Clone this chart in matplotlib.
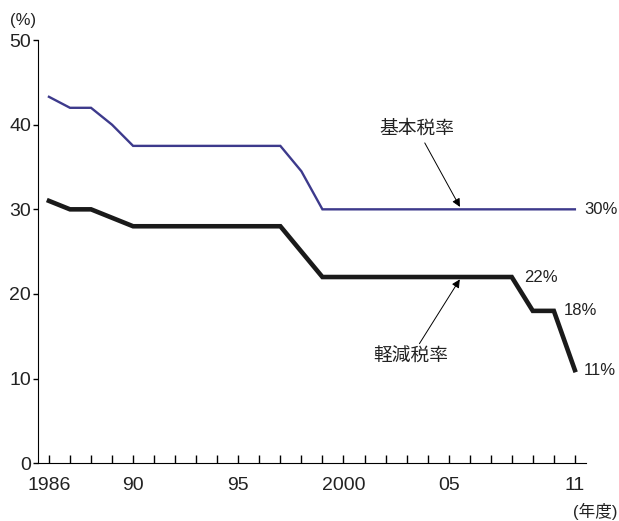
import matplotlib
matplotlib.use("Agg")
import matplotlib.pyplot as plt
from matplotlib.ticker import MultipleLocator

plt.rcParams['font.family'] = ['Liberation Sans', 'Noto Sans CJK JP']

years = list(range(1986, 2012))
basic_rate = [43.3, 42, 42, 40, 37.5, 37.5, 37.5, 37.5, 37.5, 37.5, 37.5, 37.5,
              34.5, 30, 30, 30, 30, 30, 30, 30, 30, 30, 30, 30, 30, 30]
reduced_rate = [31, 30, 30, 29, 28, 28, 28, 28, 28, 28, 28, 28,
                25, 22, 22, 22, 22, 22, 22, 22, 22, 22, 22, 18, 18, 11]
tick_years = [1986, 1990, 1995, 2000, 2005, 2011]
tick_labels = ["1986", "90", "95", "2000", "05", "11"]

fig = plt.figure(figsize=(6.19, 5.21), dpi=100)
ax = fig.add_axes([0.0614, 0.111, 0.886, 0.812])

ax.plot(years, basic_rate, color="#3d3a8c", lw=1.7, solid_joinstyle="miter")
ax.plot(years, reduced_rate, color="#1a1a1a", lw=3.3, solid_joinstyle="miter")

ax.set_xlim(1985.48, 2011.55)
ax.set_ylim(0, 50)
ax.spines["top"].set_visible(False)
ax.spines["right"].set_visible(False)
ax.spines["left"].set_bounds(0, 50)

ax.set_xticks(tick_years)
ax.set_xticklabels(tick_labels)
ax.xaxis.set_minor_locator(MultipleLocator(1))
ax.tick_params(axis="x", which="both", direction="in", length=5.5, width=1,
               labelsize=14, pad=10, labelcolor="#222222")
ax.set_yticks([0, 10, 20, 30, 40, 50])
ax.tick_params(axis="y", direction="out", length=3.5, width=1, labelsize=14,
               pad=1.5, labelcolor="#222222")

# end labels
ax.text(2011.43, basic_rate[-1], "30%", fontsize=12, va="center", ha="left", color="#222222")
ax.text(2011.43, reduced_rate[-1], "11%", fontsize=12, va="center", ha="left", color="#222222")
ax.text(2008.57, 21.9, "22%", fontsize=12, va="center", ha="left", color="#222222")
ax.text(2010.48, 18.0, "18%", fontsize=12, va="center", ha="left", color="#222222")

arrow = dict(arrowstyle="-|>", color="black", lw=0.7, mutation_scale=12,
             shrinkA=2)
ax.annotate("基本税率", xy=(2005.6, 30), xytext=(2003.5, 39.5),
            fontsize=13.5, ha="center", va="center", arrowprops=arrow, color="#222222")
ax.annotate("軽減税率", xy=(2005.6, 22), xytext=(2003.2, 12.5),
            fontsize=13.5, ha="center", va="center", arrowprops=arrow, color="#222222")

fig.text(0.016, 0.96, "(%)", fontsize=12, ha="left", va="center", color="#222222")
fig.text(0.997, 0.018, "(年度)", fontsize=12, ha="right", va="center", color="#222222")

fig.savefig("out.png", dpi=100)
